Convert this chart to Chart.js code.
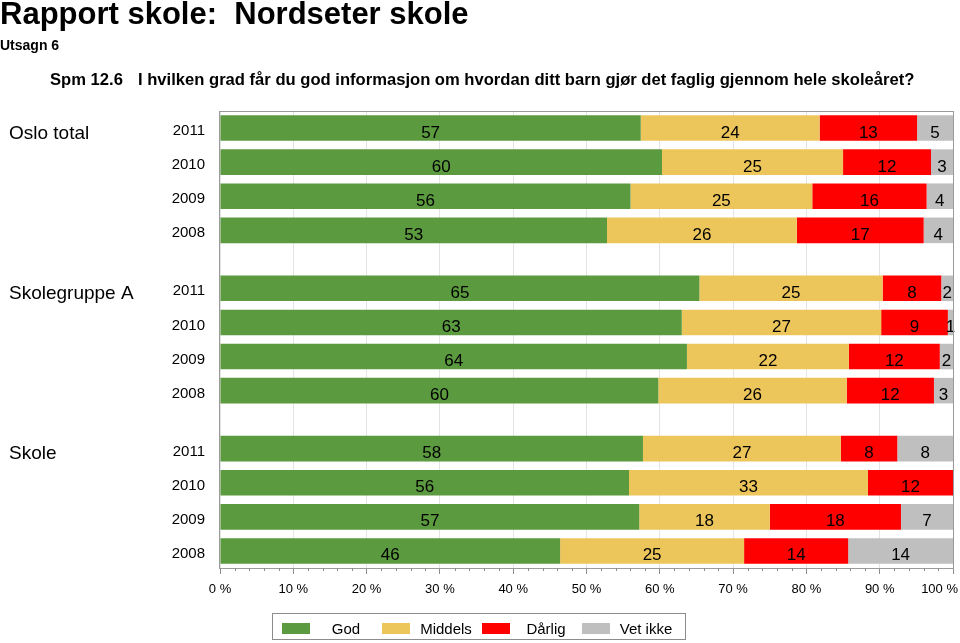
<!DOCTYPE html>
<html>
<head>
<meta charset="utf-8">
<script src="https://cdn.jsdelivr.net/npm/chart.js@4/dist/chart.umd.min.js"></script>
<style>
html,body{margin:0;padding:0;background:#fff;}
body{width:960px;height:643px;position:relative;overflow:hidden;font-family:"Liberation Sans",Arial,Helvetica,sans-serif;color:#000;}
#c{position:absolute;left:0;top:0;}
.t{position:absolute;white-space:pre;font-weight:bold;}
#title{left:0;top:-2px;font-size:31px;line-height:31px;}
#sub{left:0;top:38px;font-size:14px;line-height:14px;}
#spm{left:50px;top:72px;font-size:16.6px;line-height:16.6px;}
#q{left:138px;top:72px;font-size:16.6px;line-height:16.6px;}
#legend{position:absolute;left:272px;top:613px;width:414px;height:27px;border:1px solid #8c8c8c;box-sizing:border-box;display:flex;padding-left:9px;}
#legend .it{display:flex;width:100px;}
#legend .sw{width:28px;height:11px;margin-top:9px;flex:none;}
#legend .lb{width:72px;text-align:center;font-size:15px;line-height:15px;margin-top:7px;white-space:nowrap;}
</style>
</head>
<body>
<canvas id="c" width="960" height="643"></canvas>
<div class="t" id="title">Rapport skole:  Nordseter skole</div>
<div class="t" id="sub">Utsagn 6</div>
<div class="t" id="spm">Spm 12.6</div>
<div class="t" id="q">I hvilken grad får du god informasjon om hvordan ditt barn gjør det faglig gjennom hele skoleåret?</div>
<div id="legend"></div>
<script>
// ---- data ----
const groups = ['Oslo total', 'Skolegruppe A', 'Skole'];
const years = ['2011', '2010', '2009', '2008'];
const seriesNames = ['God', 'Middels', 'Dårlig', 'Vet ikke'];
const seriesColors = ['#5b9a3f', '#edc65b', '#ff0000', '#bfbfbf'];
// percentages per row: Oslo total 2011..2008, Skolegruppe A 2011..2008, Skole 2011..2008
const god     = [57.4, 60.3, 56.0, 52.8,  65.4, 63.0, 63.7, 59.8,  57.7, 55.8, 57.2, 46.4];
const middels = [24.4, 24.7, 24.8, 25.9,  25.0, 27.2, 22.1, 25.7,  27.0, 32.6, 17.8, 25.1];
const darlig  = [13.3, 12.0, 15.6, 17.3,   8.0,  9.1, 12.4, 11.9,   7.7, 11.6, 17.9, 14.2];
const vetIkke = [ 4.9,  3.0,  3.6,  4.0,   1.6,  0.7,  1.8,  2.6,   7.6,  0.0,  7.1, 14.3];
const xTickValues = [0, 10, 20, 30, 40, 50, 60, 70, 80, 90, 100];
const xTickLabels = ['0 %', '10 %', '20 %', '30 %', '40 %', '50 %', '60 %', '70 %', '80 %', '90 %', '100 %'];

// ---- layout helpers ----
const GROUP_GAP = 0.7;
const FONT = '"Liberation Sans", Arial, Helvetica, sans-serif';
const seriesValues = [god, middels, darlig, vetIkke];
const rowCount = groups.length * years.length;
function pos(i) {
  const g = Math.floor(i / years.length), r = i % years.length;
  return g * (years.length + GROUP_GAP) + r;
}
const rowIdx = Array.from({length: rowCount}, (_, i) => i);

const datasets = seriesNames.map((name, s) => ({
  label: name,
  backgroundColor: seriesColors[s],
  borderWidth: 0,
  categoryPercentage: 0.75,
  barPercentage: 1,
  data: rowIdx.map(i => ({x: seriesValues[s][i], y: pos(i)}))
}));

// legend (HTML)
const lg = document.getElementById('legend');
seriesNames.forEach((n, s) => {
  const it = document.createElement('div'); it.className = 'it';
  const sw = document.createElement('div'); sw.className = 'sw'; sw.style.background = seriesColors[s];
  const lb = document.createElement('div'); lb.className = 'lb'; lb.textContent = n;
  it.appendChild(sw); it.appendChild(lb); lg.appendChild(it);
});

const overlay = {
  id: 'overlay',
  beforeDraw(chart) {
    // keep the last x tick label inside the canvas (right-aligned like the original)
    const x = chart.scales.x;
    const items = x.getLabelItems(chart.chartArea);
    const last = items[items.length - 1];
    if (last && last.options && last.options.translation) {
      last.options.textAlign = 'right';
      last.options.translation[0] = chart.width - 2;
    }
  },
  afterDatasetsDraw(chart) {
    const ctx = chart.ctx;
    ctx.save();
    ctx.font = '17px ' + FONT;
    ctx.fillStyle = '#000';
    ctx.textAlign = 'center';
    ctx.textBaseline = 'alphabetic';
    chart.data.datasets.forEach((ds, i) => {
      const meta = chart.getDatasetMeta(i);
      meta.data.forEach((bar, j) => {
        const v = ds.data[j].x;
        if (!v) return;
        ctx.fillText(String(Math.round(v)), (bar.x + bar.base) / 2, bar.y + 9.5);
      });
    });
    ctx.restore();
  },
  afterDraw(chart) {
    const {ctx, chartArea: a, scales: {x, y}} = chart;
    ctx.save();
    ctx.strokeStyle = '#9a9a9a';
    ctx.lineWidth = 1;
    ctx.strokeRect(a.left - 0.5, a.top - 0.5, a.right - a.left + 1, a.bottom - a.top + 1);
    ctx.strokeStyle = '#8c8c8c';
    ctx.beginPath();
    for (let v = x.min; v <= x.max; v += 2) {
      if (v % 10 === 0) continue;
      const px = Math.round(x.getPixelForValue(v)) + 0.5;
      ctx.moveTo(px, a.bottom);
      ctx.lineTo(px, a.bottom + 3);
    }
    ctx.stroke();
    ctx.font = '19px ' + FONT;
    ctx.fillStyle = '#000';
    ctx.textAlign = 'left';
    ctx.textBaseline = 'alphabetic';
    groups.forEach((g, gi) => {
      const py = y.getPixelForValue(pos(gi * years.length));
      ctx.fillText(g, 9, py + 10.5);
    });
    ctx.restore();
  }
};

new Chart(document.getElementById('c'), {
  type: 'bar',
  data: {datasets},
  options: {
    indexAxis: 'y',
    responsive: false,
    animation: false,
    layout: {padding: {left: 0, right: 7, top: 112, bottom: 45}},
    plugins: {legend: {display: false}, tooltip: {enabled: false}},
    scales: {
      x: {
        type: 'linear',
        stacked: true,
        min: 0,
        max: 100,
        offset: false,
        afterBuildTicks: sc => { sc.ticks = xTickValues.map(v => ({value: v})); },
        afterFit: sc => { sc.height = 30; sc.paddingLeft = 0; sc.paddingRight = 0; },
        ticks: {
          autoSkip: false, maxRotation: 0, padding: 8,
          color: '#000', font: {family: FONT, size: 13},
          callback: (v, i) => xTickLabels[i]
        },
        grid: {color: '#e4e4e4', tickColor: '#8c8c8c', tickLength: 6, drawTicks: true, offset: false},
        border: {display: true, color: '#9a9a9a'}
      },
      y: {
        type: 'linear',
        stacked: true,
        reverse: true,
        offset: false,
        min: -0.47,
        max: pos(rowCount - 1) + 0.5,
        afterBuildTicks: sc => { sc.ticks = rowIdx.map(i => ({value: pos(i)})); },
        afterFit: sc => { sc.width = 220; sc.paddingTop = 0; sc.paddingBottom = 0; },
        ticks: {
          autoSkip: false, padding: 15, labelOffset: 3,
          color: '#000', font: {family: FONT, size: 15},
          callback: (v, i) => years[i % years.length]
        },
        grid: {display: false, drawTicks: false, offset: false},
        border: {display: false}
      }
    }
  },
  plugins: [overlay]
});
</script>
</body>
</html>
